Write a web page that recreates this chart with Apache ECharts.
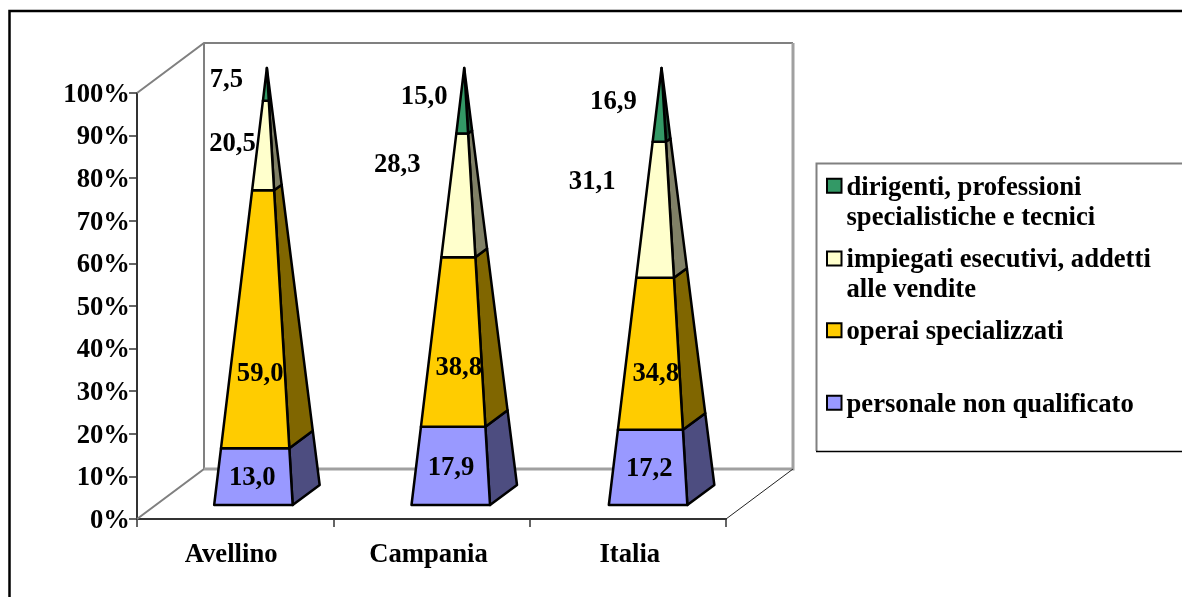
<!DOCTYPE html>
<html><head><meta charset="utf-8">
<style>html,body{margin:0;padding:0;background:#fff;overflow:hidden}#c{width:1182px;height:597px}</style>
<script src="https://cdn.jsdelivr.net/npm/echarts@6/dist/echarts.min.js"></script>
</head><body><div id="c"></div>
<script>
const categories = ['Avellino', 'Campania', 'Italia'];
const personale = [13.0, 17.9, 17.2];
const operai = [59.0, 38.8, 34.8];
const impiegati = [20.5, 28.3, 31.1];
const dirigenti = [7.5, 15.0, 16.9];
const nameP = 'personale non qualificato';
const nameO = 'operai specializzati';
const nameI = 'impiegati esecutivi, addetti\nalle vendite';
const nameD = 'dirigenti, professioni\nspecialistiche e tecnici';

const FONT = '"Liberation Serif","Times New Roman",serif';
const FS = 26.67;
const WALL = [67, -50];
const G = {left: 137, top: 93, width: 589, height: 426};
// label offsets from the middle of each segment's front face
const nudgeP = [[-2, 2], [-1, 2], [0, 2]];
const nudgeO = [[1, 55], [3, 26], [3, 20]];
const nudgeI = [[-32, -1], [-63, -30], [-65, -28]];
const nudgeD = [[-40, -4], [-39, -4], [-47, -3]];

const stacks = [];
function addStack(name, vals, color, side, nudge) {
  const prev = vals.map((_, i) => stacks.reduce((s, k) => s + k.vals[i], 0));
  stacks.push({name, vals, color, side, nudge, base: prev});
}
addStack(nameP, personale, '#9999FF', '#4D4D80', nudgeP);
addStack(nameO, operai, '#FFCC00', '#806600', nudgeO);
addStack(nameI, impiegati, '#FFFFCC', '#808066', nudgeI);
addStack(nameD, dirigenti, '#339966', '#1A4D33', nudgeD);

const lerp = (a, b, t) => [a[0] + (b[0] - a[0]) * t, a[1] + (b[1] - a[1]) * t];

function pyramid(s) {
  return function (params, api) {
    const i = api.value(0), lo = api.value(1) / 100, hi = api.value(2) / 100;
    const p0 = api.coord([i, 0]), p100 = api.coord([i, 100]);
    const cx = p0[0] + 0.5 + (i - 1);
    const FL = [cx - 20.5, p0[1] - 14], FR = [cx + 58, p0[1] - 14], BR = [cx + 85, p0[1] - 34];
    const A = [cx + 32.2, p100[1] - 25];
    const line = {stroke: '#000', lineWidth: 2.5, lineJoin: 'round'};
    const fl0 = lerp(FL, A, lo), fl1 = lerp(FL, A, hi), fr0 = lerp(FR, A, lo), fr1 = lerp(FR, A, hi);
    const br0 = lerp(BR, A, lo), br1 = lerp(BR, A, hi);
    const mid = (lo + hi) / 2;
    const ml = lerp(FL, A, mid), mr = lerp(FR, A, mid);
    const n = s.nudge[params.dataIndex];
    return {type: 'group', children: [
      {type: 'polygon', shape: {points: [fr0, br0, br1, fr1]}, style: {fill: s.side, ...line}},
      {type: 'polygon', shape: {points: [fl0, fr0, fr1, fl1]}, style: {fill: s.color, ...line}},
      {type: 'text', z2: 100, style: {
        x: (ml[0] + mr[0]) / 2 + n[0], y: ml[1] + n[1],
        text: api.value(3).toFixed(1).replace('.', ','),
        font: 'bold ' + FS + 'px ' + FONT, fill: '#000', align: 'center', verticalAlign: 'middle'}}
    ]};
  };
}

const wallSeries = {
  type: 'custom', silent: true, z: 1, data: [[0]],
  encode: {x: 0},
  renderItem(params) {
    const c = params.coordSys, x0 = c.x, x1 = c.x + c.width, y1 = c.y, y0 = c.y + c.height;
    const d = (x, y) => [x + WALL[0], y + WALL[1]];
    const grey = {stroke: '#808080', lineWidth: 2, fill: null};
    const pale = {stroke: '#A0A0A0', lineWidth: 3, fill: null};
    return {type: 'group', children: [
      {type: 'polyline', shape: {points: [[x0, y1], d(x0, y1), d(x1, y1)]}, style: grey},
      {type: 'polyline', shape: {points: [[x0, y0], d(x0, y0), d(x0, y1)]}, style: grey},
      {type: 'polyline', shape: {points: [d(x0, y0), d(x1, y0), d(x1, y1)]}, style: pale},
      {type: 'line', shape: {x1: x1, y1: y0, x2: x1 + WALL[0], y2: y0 + WALL[1]}, style: {stroke: '#222', lineWidth: 1}}
    ]};
  }
};

const series = [wallSeries].concat(stacks.map(s => ({
  type: 'custom', name: s.name, z: 2,
  itemStyle: {color: s.color, borderColor: '#000', borderWidth: 2},
  renderItem: pyramid(s),
  encode: {x: 0, y: [1, 2]},
  data: s.vals.map((v, i) => [i, s.base[i], s.base[i] + v, v])
})));

const richFont = {fontFamily: FONT, fontWeight: 'bold', fontSize: FS, color: '#000'};
function legendFor(name, top, twoLine) {
  return {
    data: [name], left: 816, top, orient: 'vertical', padding: 10, itemWidth: 14.5, itemHeight: 14, itemGap: 0,
    icon: 'rect', selectedMode: false,
    itemStyle: {borderColor: '#000', borderWidth: 2},
    formatter: (n) => (twoLine ? '{t| }\n' : '') + n.split('\n').map(l => '{t|' + l + '}').join('\n'),
    textStyle: {...richFont, rich: {t: {...richFont, height: 26, padding: [4, 0, 0, 0]}}}
  };
}

const chart = echarts.init(document.getElementById('c'), null, {renderer: 'canvas'});
chart.setOption({
  animation: false,
  backgroundColor: '#fff',
  grid: G,
  xAxis: {
    type: 'category', data: categories, boundaryGap: true,
    axisLine: {lineStyle: {color: '#333', width: 2}},
    axisTick: {show: true, length: 8, lineStyle: {color: '#333', width: 1.5}},
    axisLabel: {
      ...richFont, margin: 23, interval: 0,
      formatter: (v, i) => '{c' + i + '|' + v + '}',
      rich: {
        c0: {...richFont, padding: [0, 8, 0, 0]},
        c1: {...richFont, padding: [0, 6, 0, 0]},
        c2: {...richFont, padding: [0, 0, 0, 4]}
      }
    }
  },
  yAxis: {
    type: 'value', min: 0, max: 100, interval: 10,
    splitLine: {show: false},
    axisLine: {show: true, lineStyle: {color: '#333', width: 2}},
    axisTick: {show: true, length: 8, lineStyle: {color: '#333', width: 1.5}},
    axisLabel: {
      ...richFont, margin: 7,
      formatter: (v) => '{v|' + v + '%}',
      rich: {v: {...richFont, padding: [4, 0, 0, 0]}}
    }
  },
  legend: [
    legendFor(nameD, 134.2, true),
    legendFor(nameI, 207, true),
    legendFor(nameO, 308.8, false),
    legendFor(nameP, 381.2, false)
  ],
  graphic: [
    {type: 'polyline', shape: {points: [[9.5, 597], [9.5, 11], [1182, 11]]}, style: {stroke: '#000', lineWidth: 2.5, fill: null}, z: 0},
    {type: 'polyline', shape: {points: [[1182, 163.5], [816.5, 163.5], [816.5, 451]]}, style: {stroke: '#808080', lineWidth: 2, fill: null}, z: 0},
    {type: 'line', shape: {x1: 816, y1: 451.5, x2: 1182, y2: 451.5}, style: {stroke: '#000', lineWidth: 1.5}, z: 0}
  ],
  series
});
</script></body></html>
